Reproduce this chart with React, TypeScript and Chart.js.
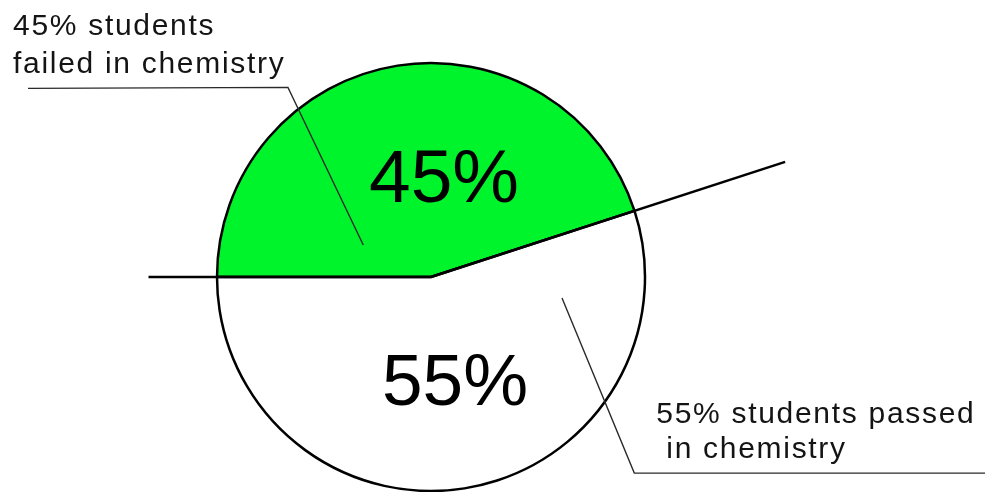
import React, { useEffect, useRef } from 'react';
import { Chart, registerables } from 'chart.js';

Chart.register(...registerables);

// ---- data ----
const categories = ['failed in chemistry', 'passed in chemistry'];
const shares = [45, 55];
const sliceLabels = ['45%', '55%'];
const calloutTexts = [
  ['45% students', 'failed in chemistry'],
  ['55% students passed', ' in chemistry'],
];

// ---- style ----
const sliceColors = ['#00f42c', '#ffffff'];
const FONT = '"Liberation Sans", Arial, Helvetica, sans-serif';

const overlayPlugin = {
  id: 'overlay',
  afterDatasetsDraw(chart: any) {
    const meta = chart.getDatasetMeta(0);
    const arcs = meta.data as any[];
    if (!arcs.length) return;
    const p0 = arcs[0].getProps(['x', 'y', 'outerRadius', 'startAngle', 'endAngle'], true);
    const p1 = arcs[1].getProps(['startAngle', 'endAngle'], true);
    const cx = p0.x, cy = p0.y, R = p0.outerRadius;
    const ctx: CanvasRenderingContext2D = chart.ctx;
    ctx.save();

    // extended dividing rays
    ctx.strokeStyle = '#000';
    ctx.lineWidth = 2.5;
    const ray = (ang: number, len: number) => {
      ctx.beginPath();
      ctx.moveTo(cx, cy);
      ctx.lineTo(cx + Math.cos(ang) * len, cy + Math.sin(ang) * len);
      ctx.stroke();
    };
    ray(p0.startAngle, R * 1.32);
    ray(p0.endAngle, R * 1.74);

    const polar = (s: number, e: number, frac: number, rf: number) => {
      const a = s + (e - s) * frac;
      return { x: cx + Math.cos(a) * R * rf, y: cy + Math.sin(a) * R * rf };
    };

    // leader lines
    ctx.strokeStyle = '#2a2a2a';
    ctx.lineWidth = 1.4;
    const a0 = polar(p0.startAngle, p0.endAngle, 0.156, 0.35);
    const e0 = polar(p0.startAngle, p0.endAngle, 0.327, 1.11);
    ctx.beginPath();
    ctx.moveTo(a0.x, a0.y);
    ctx.lineTo(e0.x, e0.y);
    ctx.lineTo(28, e0.y + 1);
    ctx.stroke();

    const a1 = polar(p1.startAngle, p1.endAngle, 0.137, 0.62);
    const e1 = polar(p1.startAngle, p1.endAngle, 0.313, 1.32);
    ctx.beginPath();
    ctx.moveTo(a1.x, a1.y);
    ctx.lineTo(e1.x, e1.y);
    ctx.lineTo(chart.width, e1.y);
    ctx.stroke();

    // callout texts
    ctx.fillStyle = '#141414';
    ctx.font = `30px ${FONT}`;
    (ctx as any).letterSpacing = '1.7px';
    ctx.textAlign = 'left';
    ctx.textBaseline = 'alphabetic';
    ctx.fillText(calloutTexts[0][0], 13, e0.y - 52);
    ctx.fillText(calloutTexts[0][1], 13, e0.y - 14);
    ctx.fillText(calloutTexts[1][0], e1.x + 22, e1.y - 50);
    ctx.fillText(calloutTexts[1][1], e1.x + 22, e1.y - 15);

    // big percentage labels
    (ctx as any).letterSpacing = '0px';
    ctx.fillStyle = '#000';
    ctx.textAlign = 'center';
    ctx.font = `75px ${FONT}`;
    ctx.fillText(sliceLabels[0], cx + 13, cy - 75);
    ctx.font = `73px ${FONT}`;
    ctx.fillText(sliceLabels[1], cx + 24, cy + 128);

    ctx.restore();
  },
};

export default function App() {
  const ref = useRef<HTMLCanvasElement | null>(null);

  useEffect(() => {
    if (!ref.current) return;
    const chart = new Chart(ref.current, {
      type: 'pie',
      data: {
        labels: categories,
        datasets: [
          {
            data: shares,
            backgroundColor: sliceColors,
            borderColor: '#000',
            borderWidth: 2.5,
            radius: 214,
            rotation: -90,
          } as any,
        ],
      },
      options: {
        animation: false,
        responsive: true,
        maintainAspectRatio: false,
        rotation: -90,
        layout: { padding: { left: 0, right: 123, top: 62, bottom: 0 } },
        plugins: {
          legend: { display: false },
          tooltip: { enabled: false },
        },
        events: [],
      } as any,
      plugins: [overlayPlugin],
    });
    return () => chart.destroy();
  }, []);

  return (
    <div style={{ position: 'absolute', left: 0, top: 0, width: 985, height: 492, background: '#fff' }}>
      <canvas ref={ref} />
    </div>
  );
}
